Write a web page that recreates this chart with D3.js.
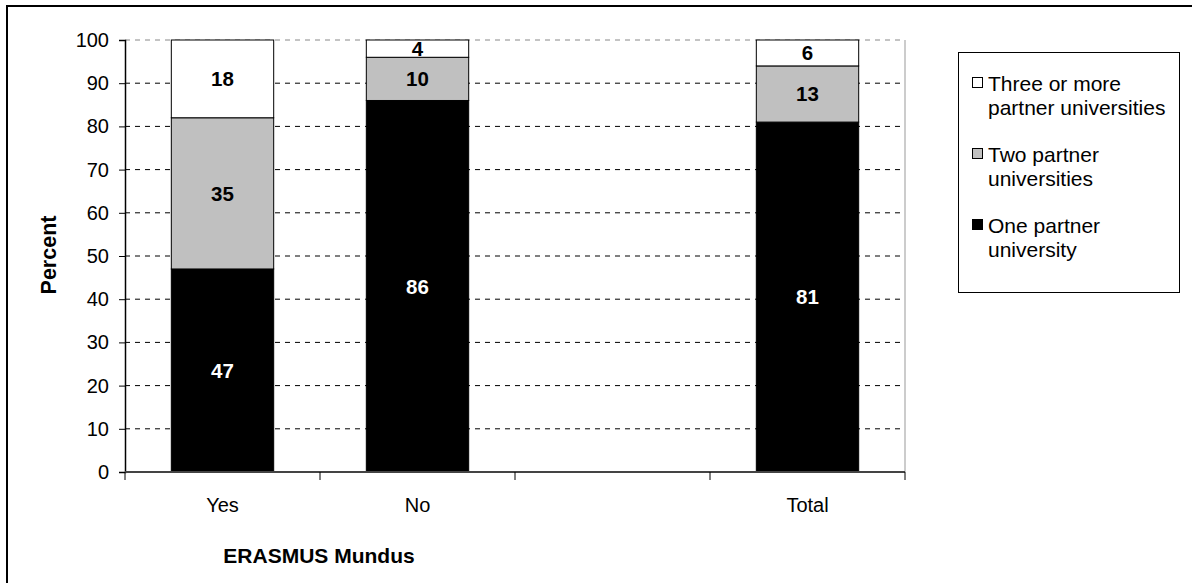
<!DOCTYPE html>
<html>
<head>
<meta charset="utf-8">
<script src="https://cdn.jsdelivr.net/npm/d3@7"></script>
<style>
  body { margin: 0; background: #fff; }
  svg { font-family: "Liberation Sans", Arial, sans-serif; }
</style>
</head>
<body>
<svg id="chart" width="1192" height="583"></svg>
<script>
// categories on the x axis (third slot is an empty gap)
const categories = ["Yes", "No", "", "Total"];
// series, bottom to top
const seriesNames = ["One partner university", "Two partner universities", "Three or more partner universities"];
const onePartner = [47, 86, null, 81];
const twoPartner = [35, 10, null, 13];
const threePartner = [18, 4, null, 6];
const yTicks = [0, 10, 20, 30, 40, 50, 60, 70, 80, 90, 100];

const colors = ["#000000", "#c0c0c0", "#ffffff"];
const labelColors = ["#ffffff", "#000000", "#000000"];

const svg = d3.select("#chart");

// outer frame (only top/left are in view)
svg.append("rect")
  .attr("x", 7).attr("y", 6)
  .attr("width", 1200).attr("height", 600)
  .attr("fill", "none").attr("stroke", "#000").attr("stroke-width", 2);

const plotL = 125, plotR = 905, plotT = 40, plotB = 472;

const x = d3.scaleBand().domain(d3.range(categories.length)).range([plotL, plotR]).paddingInner(0.475).paddingOuter(0.2375);
const y = d3.scaleLinear().domain([0, 100]).range([plotB, plotT]);

// gridlines
svg.append("g").selectAll("line")
  .data(yTicks.filter(d => d > 0))
  .join("line")
  .attr("x1", plotL).attr("x2", plotR)
  .attr("y1", d => y(d)).attr("y2", d => y(d))
  .attr("stroke", d => d === 100 ? "#888" : "#000")
  .attr("stroke-width", 1)
  .attr("stroke-dasharray", "5,5");

// right edge of plot area
svg.append("line")
  .attr("x1", plotR).attr("x2", plotR).attr("y1", plotT).attr("y2", plotB)
  .attr("stroke", "#999").attr("stroke-width", 1);

// stacked bars
const rows = categories.map((c, i) => ({ i, vals: [onePartner[i], twoPartner[i], threePartner[i]] }));
rows.forEach(r => {
  if (r.vals[0] == null) return;
  let acc = 0;
  r.vals.forEach((v, k) => {
    const y0 = acc, y1 = acc + v;
    acc = y1;
    svg.append("rect")
      .attr("x", x(r.i)).attr("width", x.bandwidth())
      .attr("y", y(y1)).attr("height", y(y0) - y(y1))
      .attr("fill", colors[k]).attr("stroke", "#000").attr("stroke-width", 1);
    svg.append("text")
      .attr("x", x(r.i) + x.bandwidth() / 2)
      .attr("y", y((y0 + y1) / 2))
      .attr("dy", "0.36em")
      .attr("text-anchor", "middle")
      .attr("font-size", 20.5).attr("font-weight", "bold")
      .attr("fill", labelColors[k])
      .text(v);
  });
});

// y axis
const yAxis = svg.append("g").attr("transform", `translate(${plotL},0)`)
  .call(d3.axisLeft(y).tickValues(yTicks).tickSize(6).tickPadding(10));
yAxis.select(".domain").attr("stroke", "#000").attr("stroke-width", 1.5);
yAxis.selectAll(".tick line").attr("stroke", "#000");
yAxis.selectAll(".tick text").attr("font-size", 20).attr("fill", "#000")
  .attr("font-family", "Liberation Sans, Arial, sans-serif");

// x axis line + ticks at band boundaries
svg.append("line")
  .attr("x1", plotL).attr("x2", plotR).attr("y1", plotB).attr("y2", plotB)
  .attr("stroke", "#444").attr("stroke-width", 2);
const step = x.step();
svg.append("g").selectAll("line")
  .data(d3.range(categories.length + 1))
  .join("line")
  .attr("x1", d => plotL + d * step).attr("x2", d => plotL + d * step)
  .attr("y1", plotB).attr("y2", plotB + 8)
  .attr("stroke", "#000").attr("stroke-width", 1);
svg.append("g").selectAll("text")
  .data(categories.map((c, i) => ({ c, i })).filter(d => d.c))
  .join("text")
  .attr("x", d => x(d.i) + x.bandwidth() / 2)
  .attr("y", 512)
  .attr("text-anchor", "middle")
  .attr("font-size", 20)
  .text(d => d.c);

// axis titles
svg.append("text")
  .attr("x", 319).attr("y", 563)
  .attr("text-anchor", "middle")
  .attr("font-size", 21).attr("font-weight", "bold")
  .text("ERASMUS Mundus");
svg.append("text")
  .attr("transform", "translate(56,255) rotate(-90)")
  .attr("text-anchor", "middle")
  .attr("font-size", 21.5).attr("font-weight", "bold")
  .text("Percent");

// legend
svg.append("rect")
  .attr("x", 958.5).attr("y", 52.5).attr("width", 221).attr("height", 240)
  .attr("fill", "#fff").attr("stroke", "#000").attr("stroke-width", 1);
const legendItems = [
  { k: 2, lines: ["Three or more", "partner universities"], y: 83 },
  { k: 1, lines: ["Two partner", "universities"], y: 154 },
  { k: 0, lines: ["One partner", "university"], y: 225 }
];
legendItems.forEach(it => {
  svg.append("rect")
    .attr("x", 972.5).attr("y", it.y - 5.5).attr("width", 10).attr("height", 10)
    .attr("fill", colors[it.k]).attr("stroke", "#000").attr("stroke-width", 1);
  it.lines.forEach((ln, j) => {
    svg.append("text")
      .attr("x", 988).attr("y", it.y + j * 24)
      .attr("dy", "0.36em")
      .attr("font-size", 21)
      .text(ln);
  });
});
</script>
</body>
</html>
